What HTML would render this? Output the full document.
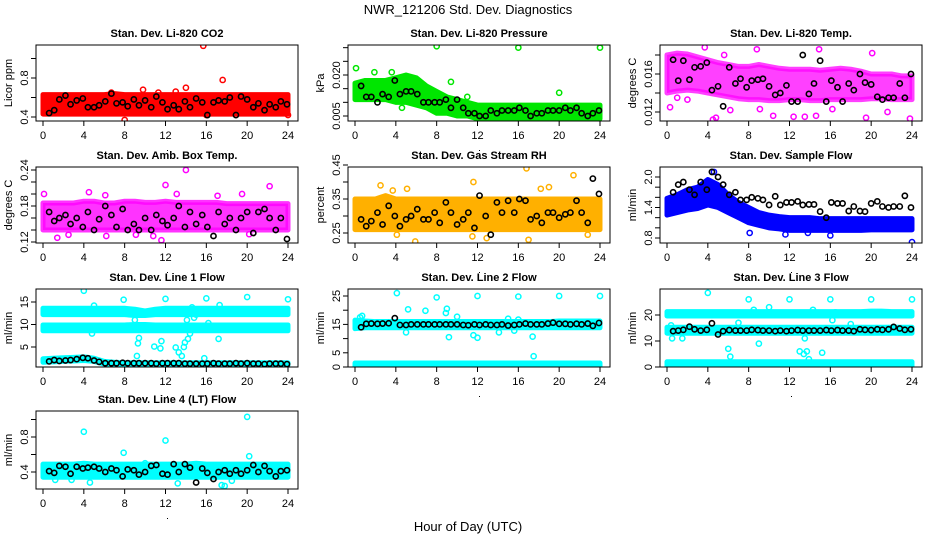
<!DOCTYPE html>
<html><head><meta charset="utf-8"><style>
html,body{margin:0;padding:0;background:#fff;}
svg{display:block;font-family:"Liberation Sans",Arial,sans-serif;}
</style></head><body>
<svg id="chart" width="936" height="540" viewBox="0 0 936 540">
<text x="468" y="14" text-anchor="middle" font-size="13">NWR_121206  Std. Dev. Diagnostics</text>
<text x="468" y="531" text-anchor="middle" font-size="13">Hour of Day (UTC)</text>
</svg>
<script>
const hours = [0,1,2,3,4,5,6,7,8,9,10,11,12,13,14,15,16,17,18,19,20,21,22,23,24];
const blackHours = [0.6,1.1,1.6,2.2,2.7,3.3,3.9,4.4,5.0,5.5,6.1,6.7,7.2,7.8,8.3,8.9,9.4,10.0,10.6,11.1,11.7,12.2,12.8,13.3,13.9,14.4,15.0,15.6,16.1,16.7,17.2,17.8,18.3,18.9,19.4,20.0,20.6,21.1,21.7,22.2,22.8,23.3,23.9];
const xTicks = [0,4,8,12,16,20,24];

const co2Lo = [0.43,0.43,0.43,0.43,0.43,0.43,0.43,0.43,0.43,0.43,0.43,0.43,0.43,0.43,0.43,0.43,0.43,0.43,0.43,0.43,0.43,0.43,0.43,0.43,0.43];
const co2Hi = [0.63,0.63,0.63,0.63,0.63,0.63,0.63,0.64,0.63,0.63,0.63,0.63,0.63,0.63,0.63,0.63,0.63,0.63,0.63,0.63,0.63,0.63,0.63,0.63,0.63];
const co2Out = [[15.7,1.13],[17.6,0.78],[8.0,0.37],[14.0,0.70],[9.8,0.68],[24,0.42],[16,0.42],[13,0.66],[11.3,0.65],[6.7,0.65]];
const co2Black = [0.44,0.47,0.58,0.62,0.53,0.57,0.59,0.50,0.50,0.52,0.56,0.64,0.54,0.55,0.51,0.58,0.52,0.57,0.50,0.61,0.55,0.48,0.52,0.48,0.56,0.50,0.59,0.55,0.42,0.55,0.57,0.56,0.60,0.42,0.61,0.58,0.50,0.54,0.47,0.53,0.50,0.56,0.53];

const presLo = [0.011,0.011,0.011,0.011,0.010,0.010,0.009,0.008,0.006,0.006,0.005,0.005,0.004,0.004,0.004,0.004,0.004,0.004,0.004,0.004,0.004,0.004,0.004,0.004,0.004];
const presHi = [0.017,0.018,0.018,0.018,0.019,0.020,0.019,0.016,0.014,0.012,0.011,0.010,0.009,0.009,0.009,0.009,0.009,0.009,0.009,0.009,0.009,0.009,0.009,0.009,0.009];
const presOut = [[0.1,0.0225],[8,0.0305],[16,0.030],[24,0.030],[9.4,0.0175],[20,0.0135],[11,0.012],[4.6,0.008],[1.9,0.021],[3.6,0.021]];
const presBlack = [0.016,0.012,0.012,0.010,0.013,0.012,0.018,0.013,0.014,0.014,0.013,0.010,0.010,0.010,0.010,0.011,0.008,0.011,0.008,0.006,0.006,0.005,0.005,0.007,0.006,0.007,0.007,0.007,0.008,0.007,0.005,0.006,0.006,0.007,0.007,0.007,0.008,0.007,0.008,0.006,0.005,0.006,0.007];

const tempLo = [0.0140,0.0142,0.0143,0.0142,0.0140,0.0138,0.0136,0.0134,0.0133,0.0133,0.0132,0.0132,0.0133,0.0133,0.0132,0.0132,0.0133,0.0133,0.0133,0.0133,0.0134,0.0134,0.0133,0.0133,0.0133];
const tempHi = [0.0180,0.0182,0.0181,0.0178,0.0175,0.0172,0.0170,0.0168,0.0168,0.0170,0.0168,0.0166,0.0165,0.0165,0.0165,0.0164,0.0165,0.0166,0.0165,0.0163,0.0160,0.0160,0.0160,0.0158,0.0158];
const tempOut = [[0.3,0.0125],[3.7,0.0188],[4.5,0.0112],[4.8,0.0114],[8.8,0.0186],[12.4,0.0115],[13.5,0.0115],[14.6,0.0116],[14.9,0.0186],[19.5,0.0114],[20.1,0.0182],[23.8,0.0113],[6.2,0.0122],[9.1,0.0123],[10.4,0.0116],[16.2,0.0123],[21.6,0.0120],[1.0,0.0135],[2.0,0.0133],[5.6,0.0180]];
const tempBlack = [0.0175,0.0153,0.0174,0.0154,0.0167,0.0168,0.0172,0.0143,0.0147,0.0126,0.0167,0.0150,0.0155,0.0146,0.0153,0.0154,0.0155,0.0147,0.0138,0.0140,0.0148,0.0131,0.0131,0.0180,0.0139,0.0150,0.0174,0.0131,0.0153,0.0146,0.0131,0.0150,0.0143,0.0160,0.0151,0.0149,0.0136,0.0133,0.0135,0.0135,0.0150,0.0135,0.0160];

const ambLo = [0.140,0.140,0.140,0.140,0.140,0.140,0.140,0.140,0.140,0.140,0.140,0.140,0.140,0.140,0.140,0.140,0.140,0.140,0.140,0.140,0.140,0.140,0.140,0.140,0.140];
const ambHi = [0.185,0.185,0.185,0.185,0.188,0.188,0.185,0.185,0.188,0.188,0.186,0.186,0.188,0.186,0.186,0.186,0.186,0.186,0.184,0.184,0.184,0.184,0.184,0.184,0.184];
const ambOut = [[14.0,0.240],[11.6,0.123],[1.4,0.127],[22.2,0.213],[12,0.215],[0.1,0.20],[19.5,0.20],[4.5,0.203],[6.1,0.198],[13.1,0.20],[17.1,0.197],[2.5,0.132],[9.1,0.132],[6.2,0.130],[10.8,0.130],[20.2,0.133]];
const ambBlack = [0.17,0.155,0.16,0.165,0.15,0.16,0.145,0.17,0.14,0.158,0.18,0.165,0.145,0.175,0.14,0.15,0.14,0.16,0.14,0.165,0.155,0.148,0.16,0.18,0.145,0.17,0.15,0.165,0.145,0.13,0.17,0.15,0.16,0.14,0.16,0.17,0.135,0.17,0.175,0.16,0.14,0.16,0.125];

const rhLo = [0.26,0.26,0.26,0.26,0.26,0.26,0.26,0.26,0.26,0.26,0.26,0.26,0.26,0.26,0.26,0.26,0.26,0.26,0.26,0.26,0.26,0.26,0.26,0.26,0.26];
const rhHi = [0.35,0.35,0.35,0.36,0.35,0.35,0.35,0.35,0.35,0.35,0.35,0.35,0.35,0.35,0.35,0.35,0.35,0.35,0.35,0.35,0.35,0.35,0.35,0.35,0.35];
const rhOut = [[16.8,0.44],[21.4,0.42],[5.9,0.225],[17,0.23],[11.6,0.40],[2.5,0.39],[18.2,0.38],[12.9,0.235],[3.7,0.375],[5.1,0.38],[22.8,0.245],[4.1,0.245],[11.5,0.24],[19.0,0.385]];
const rhBlack = [0.29,0.27,0.285,0.31,0.275,0.33,0.30,0.27,0.29,0.30,0.32,0.29,0.29,0.31,0.28,0.34,0.31,0.275,0.29,0.31,0.265,0.36,0.30,0.245,0.34,0.31,0.345,0.31,0.35,0.345,0.29,0.30,0.28,0.31,0.31,0.295,0.305,0.31,0.345,0.31,0.28,0.41,0.365];

const flowLo = [1.25,1.30,1.35,1.38,1.45,1.40,1.30,1.20,1.10,1.05,1.00,0.98,0.95,0.95,0.95,0.95,0.95,0.95,0.95,0.95,0.96,0.96,0.96,0.96,0.96];
const flowHi = [1.58,1.65,1.75,1.80,1.95,1.85,1.65,1.50,1.40,1.30,1.25,1.22,1.20,1.20,1.20,1.18,1.18,1.18,1.18,1.18,1.18,1.18,1.18,1.18,1.18];
const flowOut = [[24,0.72],[16,0.85],[8.1,0.9],[4.6,2.1],[0.1,1.3],[11.6,0.87],[13.8,0.9]];
const flowBlack = [1.7,1.85,1.9,1.75,1.65,1.9,1.75,2.1,2.0,1.85,1.65,1.7,1.55,1.55,1.6,1.58,1.55,1.45,1.62,1.45,1.5,1.5,1.52,1.45,1.46,1.46,1.32,1.2,1.5,1.48,1.48,1.33,1.42,1.33,1.32,1.48,1.52,1.42,1.40,1.42,1.42,1.63,1.4];

const l1aLo = [12.2,12.2,12.2,12.2,12.2,12.2,12.2,12.2,12.2,12.0,12.0,12.2,12.2,12.2,12.2,12.2,12.2,12.2,12.2,12.2,12.2,12.2,12.2,12.2,12.2];
const l1aHi = [13.6,13.6,13.6,13.6,13.6,13.6,13.6,13.6,13.6,13.4,13.0,13.4,13.6,13.6,13.6,13.6,13.6,13.6,13.6,13.6,13.6,13.6,13.6,13.6,13.6];
const l1bLo = [8.6,8.6,8.6,8.6,8.6,8.6,8.6,8.6,8.6,8.6,8.6,8.6,8.6,8.6,8.6,8.6,8.6,8.6,8.6,8.6,8.6,8.6,8.6,8.6,8.6];
const l1bHi = [9.9,9.9,9.9,9.9,9.9,9.9,9.9,9.9,9.9,10.0,10.0,9.9,9.9,9.9,9.9,9.9,9.9,9.9,9.9,9.9,9.9,9.9,9.9,9.9,9.9];
const l1cLo = [1.6,1.7,1.8,1.9,2.0,1.8,1.2,1.0,1.0,1.0,1.0,1.0,1.0,1.0,1.0,1.0,1.0,1.0,1.0,1.0,1.0,1.0,1.0,1.0,1.0];
const l1cHi = [2.4,2.5,2.6,2.7,2.8,2.5,1.8,1.6,1.5,1.5,1.5,1.5,1.5,1.5,1.5,1.5,1.5,1.5,1.5,1.5,1.5,1.5,1.5,1.5,1.5];
const l1Out = [[4,17.5],[7.9,15.5],[12,15.7],[16,15.8],[20,16.1],[24,15.6],[9.3,5.8],[9.2,3.0],[10.9,5.1],[11.6,6.3],[11.5,4.7],[13,4.9],[13.3,3.8],[13.6,3.0],[13.9,6.0],[14.2,6.8],[15.8,2.5],[16.2,10.3],[17.2,6.8],[4.8,8.0],[9,11],[14.6,13.8],[15,12.2],[17.3,14.3],[13.8,5],[14.4,8],[5,14.2],[9.4,7],[14.1,11],[14.8,11.5]];
const l1Black = [1.8,2.1,1.9,2.0,2.1,2.3,2.6,2.5,2.0,1.7,1.4,1.4,1.4,1.5,1.4,1.4,1.4,1.4,1.4,1.3,1.4,1.4,1.4,1.4,1.3,1.3,1.3,1.3,1.3,1.4,1.3,1.3,1.3,1.4,1.3,1.4,1.3,1.3,1.2,1.3,1.3,1.3,1.2];

const l2aLo = [13.5,13.8,13.8,13.8,13.8,13.8,13.8,13.8,13.8,13.8,13.8,13.8,13.8,13.8,13.8,13.8,13.8,13.8,13.8,13.8,13.8,13.8,13.8,13.8,13.8];
const l2aHi = [16.5,16.2,16.0,16.0,16.0,16.0,16.0,16.0,16.0,16.0,16.0,16.0,16.0,16.0,16.0,16.0,16.0,16.0,16.0,16.0,16.2,16.2,16.2,16.2,16.2];
const l2bLo = [0.1,0.1,0.1,0.1,0.1,0.1,0.1,0.1,0.1,0.1,0.1,0.1,0.1,0.1,0.1,0.1,0.1,0.1,0.1,0.1,0.1,0.1,0.1,0.1,0.1];
const l2bHi = [1.4,1.4,1.4,1.4,1.4,1.4,1.4,1.4,1.4,1.4,1.4,1.4,1.4,1.4,1.4,1.4,1.4,1.4,1.4,1.4,1.4,1.4,1.4,1.4,1.4];
const l2Out = [[4.1,26],[8,24.5],[12,25],[16,24.8],[20,25],[24,25],[5.2,20.3],[6.9,19.8],[9,20.5],[8.9,19],[9.2,10.5],[12,10.3],[11.6,11.2],[17.4,10.7],[17.5,3.8],[5,12.2],[10,17.7],[0.5,17.5],[0.7,18],[15,17],[16,16.7],[14.1,12.2],[15.6,12.8]];
const l2Black = [14,15.2,15.3,15.2,15.3,15.4,17.2,14.8,14.8,15,15,15,15,15,15,15,15,15,14.8,14.7,15,14.8,15,14.8,14.8,15,14.6,14.8,15,15.3,15,15,15,15.3,15.6,15.2,15.2,15,15.2,15,15.3,14.5,15.5];

const l3aLo = [19.6,19.6,19.6,19.6,19.6,19.6,19.6,19.6,19.6,19.6,19.6,19.6,19.6,19.6,19.6,19.6,19.6,19.6,19.6,19.6,19.6,19.6,19.6,19.6,19.6];
const l3aHi = [21.3,21.3,21.3,21.3,21.3,21.3,21.3,21.3,21.3,21.3,21.3,21.3,21.3,21.3,21.3,21.3,21.3,21.3,21.3,21.3,21.5,21.5,21.3,21.3,21.3];
const l3bLo = [13.0,13.0,13.0,13.0,13.0,13.0,13.0,13.0,13.0,13.0,13.0,13.0,13.0,13.0,13.0,13.0,13.0,13.0,13.0,13.0,13.0,13.0,13.0,13.0,13.0];
const l3bHi = [15.3,15.3,15.3,15.3,15.3,15.3,15.3,15.3,15.3,15.3,15.3,15.3,15.3,15.3,15.3,15.3,15.3,15.3,15.3,15.3,15.3,15.3,15.3,15.3,15.3];
const l3cLo = [0.4,0.4,0.4,0.4,0.4,0.4,0.4,0.4,0.4,0.4,0.4,0.4,0.4,0.4,0.4,0.4,0.4,0.4,0.4,0.4,0.4,0.4,0.4,0.4,0.4];
const l3cHi = [2.0,2.0,2.0,2.0,2.0,2.0,2.0,2.0,2.0,2.0,2.0,2.0,2.0,2.0,2.0,2.0,2.0,2.0,2.0,2.0,2.0,2.0,2.0,2.0,2.0];
const l3Out = [[4,28.5],[8,26],[12,26],[16,26],[20,26],[24,26],[0.4,16],[0.5,11],[1.5,11],[6,7],[6.2,4],[9,9],[10,23],[13,6],[13.5,11],[13.4,5],[13.7,6],[15.2,5.5],[14.3,22],[8.5,22],[7,17],[16.2,18],[16.5,21],[18,16.5],[13.9,3]];
const l3Black = [13.8,14,14.3,15.5,14.5,14,14.3,16.8,12.5,13.8,14.2,14,14,14,14.3,14.2,14,14,13.8,14,13.8,14,14.2,14,14,14,14,14.2,14,14.2,14,14,13.8,14.5,14.3,14.2,14.5,14.3,14.5,15.4,14.8,14.3,14.5];

const l4Lo = [0.34,0.34,0.34,0.34,0.34,0.34,0.34,0.34,0.34,0.34,0.34,0.34,0.34,0.34,0.34,0.34,0.34,0.34,0.34,0.34,0.34,0.34,0.34,0.34,0.34];
const l4Hi = [0.49,0.49,0.49,0.49,0.50,0.49,0.49,0.49,0.49,0.49,0.49,0.49,0.49,0.49,0.49,0.50,0.49,0.49,0.49,0.49,0.49,0.49,0.49,0.49,0.49];
const l4Out = [[4,0.86],[7.9,0.62],[12,0.76],[20,1.03],[20.2,0.58],[17.8,0.24],[17.5,0.25],[4.6,0.28],[10,0.5],[1.2,0.31],[2.8,0.31],[13.2,0.27],[18.5,0.30]];
const l4Black = [0.41,0.39,0.47,0.46,0.38,0.46,0.44,0.45,0.46,0.44,0.40,0.44,0.42,0.35,0.43,0.42,0.37,0.40,0.47,0.48,0.38,0.37,0.49,0.40,0.49,0.45,0.28,0.44,0.39,0.32,0.40,0.42,0.38,0.42,0.38,0.42,0.48,0.40,0.47,0.41,0.35,0.41,0.42];

const panels = [
 {name:'co2',title:'Stan. Dev. Li-820 CO2',ylab:'Licor ppm',col:0,row:0,cal:[0.4,117,0.8,78],ticks:[0.4,0.6,0.8,1.0],labels:['0.4',null,'0.8',null],color:'#ff0000',bands:[[co2Lo,co2Hi]],out:co2Out,black:co2Black},
 {name:'pressure',title:'Stan. Dev. Li-820 Pressure',ylab:'kPa',col:1,row:0,cal:[0.005,116,0.020,75],ticks:[0.005,0.010,0.015,0.020,0.025,0.030],labels:['0.005',null,null,'0.020',null,null],color:'#00e600',bands:[[presLo,presHi]],out:presOut,black:presBlack},
 {name:'temp',title:'Stan. Dev. Li-820 Temp.',ylab:'degrees C',col:2,row:0,cal:[0.012,112,0.016,74],ticks:[0.012,0.014,0.016,0.018],labels:['0.012',null,'0.016',null],color:'#ff00ff',bands:[[tempLo,tempHi]],out:tempOut,black:tempBlack,op:0.75},
 {name:'amb-box-temp',title:'Stan. Dev. Amb. Box Temp.',ylab:'degrees C',col:0,row:1,cal:[0.12,242,0.24,170],ticks:[0.12,0.14,0.16,0.18,0.20,0.22,0.24],labels:['0.12',null,null,'0.18',null,null,'0.24'],color:'#ff00ff',bands:[[ambLo,ambHi]],out:ambOut,black:ambBlack,op:0.8},
 {name:'gas-stream-rh',title:'Stan. Dev. Gas Stream RH',ylab:'percent',col:1,row:1,cal:[0.25,233,0.45,165],ticks:[0.25,0.30,0.35,0.40,0.45],labels:['0.25',null,'0.35',null,'0.45'],color:'#ffb000',bands:[[rhLo,rhHi]],out:rhOut,black:rhBlack},
 {name:'sample-flow',title:'Stan. Dev. Sample Flow',ylab:'ml/min',col:2,row:1,cal:[0.8,238,2.0,177],ticks:[0.8,1.0,1.2,1.4,1.6,1.8,2.0],labels:['0.8',null,null,'1.4',null,null,'2.0'],color:'#0000ff',bands:[[flowLo,flowHi]],out:flowOut,black:flowBlack},
 {name:'line1-flow',title:'Stan. Dev. Line 1 Flow',ylab:'ml/min',col:0,row:2,cal:[5,347,15,302],ticks:[5,10,15],labels:['5','10','15'],color:'#00ffff',bands:[[l1aLo,l1aHi],[l1bLo,l1bHi],[l1cLo,l1cHi]],out:l1Out,black:l1Black},
 {name:'line2-flow',title:'Stan. Dev. Line 2 Flow',ylab:'ml/min',col:1,row:2,cal:[0,367,25,296],ticks:[0,5,10,15,20,25],labels:['0','5',null,'15',null,'25'],color:'#00ffff',bands:[[l2aLo,l2aHi],[l2bLo,l2bHi]],out:l2Out,black:l2Black},
 {name:'line3-flow',title:'Stan. Dev. Line 3 Flow',ylab:'ml/min',col:2,row:2,cal:[0,367,20,315],ticks:[0,10,20],labels:['0','10','20'],color:'#00ffff',bands:[[l3aLo,l3aHi],[l3bLo,l3bHi],[l3cLo,l3cHi]],out:l3Out,black:l3Black},
 {name:'line4-flow',title:'Stan. Dev. Line 4 (LT) Flow',ylab:'ml/min',col:0,row:3,cal:[0.4,472,0.8,437],ticks:[0.4,0.6,0.8,1.0],labels:['0.4',null,'0.8',null],color:'#00ffff',bands:[[l4Lo,l4Hi]],out:l4Out,black:l4Black}
];

const NS='http://www.w3.org/2000/svg';
const svg=document.getElementById('chart');
function mk(tag,attrs,parent){const e=document.createElementNS(NS,tag);for(const k in attrs)e.setAttribute(k,attrs[k]);(parent||svg).appendChild(e);return e;}
const rowTops=[45,167,289,411], rowBots=[121,243,367,489];

panels.forEach(p=>{
  const left=36+312*p.col, right=left+262, top=rowTops[p.row], bot=rowBots[p.row];
  const xs=h=>left+7+h*(245/24);
  const ys=v=>p.cal[1]+(v-p.cal[0])*(p.cal[3]-p.cal[1])/(p.cal[2]-p.cal[0]);
  const g=mk('g',{});
  
  
  const clipId='clip-'+p.name;
  const cp=mk('clipPath',{id:clipId},g); mk('rect',{x:left,y:top,width:262,height:bot-top},cp);
  const t=mk('text',{x:(left+right)/2,y:top-8,'text-anchor':'middle','font-size':11,'font-weight':'bold'},g);
  t.textContent=p.title;
  
  
  const yl=mk('text',{x:0,y:0,transform:`translate(${left-24},${(top+bot)/2}) rotate(-90)`,'text-anchor':'middle','font-size':11},g);
  yl.textContent=p.ylab;
  
  
  const plot=mk('g',{'clip-path':`url(#${clipId})`},g);
  
  
  p.bands.forEach((b,bi)=>{
    let pts=hours.map((h,i)=>xs(h)+','+ys(b[1][i]));
    pts=pts.concat(hours.slice().reverse().map((h,j)=>{const i=hours.length-1-j;return xs(h)+','+ys(b[0][i]);}));
    const pg=mk('polygon',{points:pts.join(' '),fill:p.color,stroke:p.color,'stroke-width':5,'stroke-linejoin':'round','fill-opacity':p.op||1,'stroke-opacity':p.op||1},plot);
    
    
  });
  p.out.forEach(o=>{
    const c=mk('circle',{cx:xs(o[0]),cy:ys(o[1]),r:2.6,fill:'none',stroke:p.color,'stroke-width':1.5},plot);
    
    
  });
  blackHours.forEach((h,i)=>{
    const c=mk('circle',{cx:xs(h),cy:ys(p.black[i]),r:2.6,fill:'none',stroke:'#000','stroke-width':1.6},plot);
    
    
  });
  const box=mk('rect',{x:left,y:top,width:262,height:bot-top,fill:'none',stroke:'#000','stroke-width':1},g);
  
  
  xTicks.forEach(h=>{
    mk('line',{x1:xs(h),x2:xs(h),y1:bot,y2:bot+5,stroke:'#000'},g);
    const tl=mk('text',{x:xs(h),y:bot+18,'text-anchor':'middle','font-size':11},g);
    tl.textContent=h;
    
    
  });
  mk('line',{x1:xs(0),x2:xs(24),y1:bot,y2:bot,stroke:'#000'},g);
  p.ticks.forEach((v,i)=>{
    const y=ys(v);
    mk('line',{x1:left-5,x2:left,y1:y,y2:y,stroke:'#000'},g);
    if(p.labels[i]){
      const tl=mk('text',{x:0,y:0,transform:`translate(${left-8},${y}) rotate(-90)`,'text-anchor':'middle','font-size':11},g);
      tl.textContent=p.labels[i];
      
      
    }
  });
  mk('rect',{x:(left+right)/2,y:bot+29,width:1,height:1,fill:'#000'},g);
});
</script>
</body></html>
